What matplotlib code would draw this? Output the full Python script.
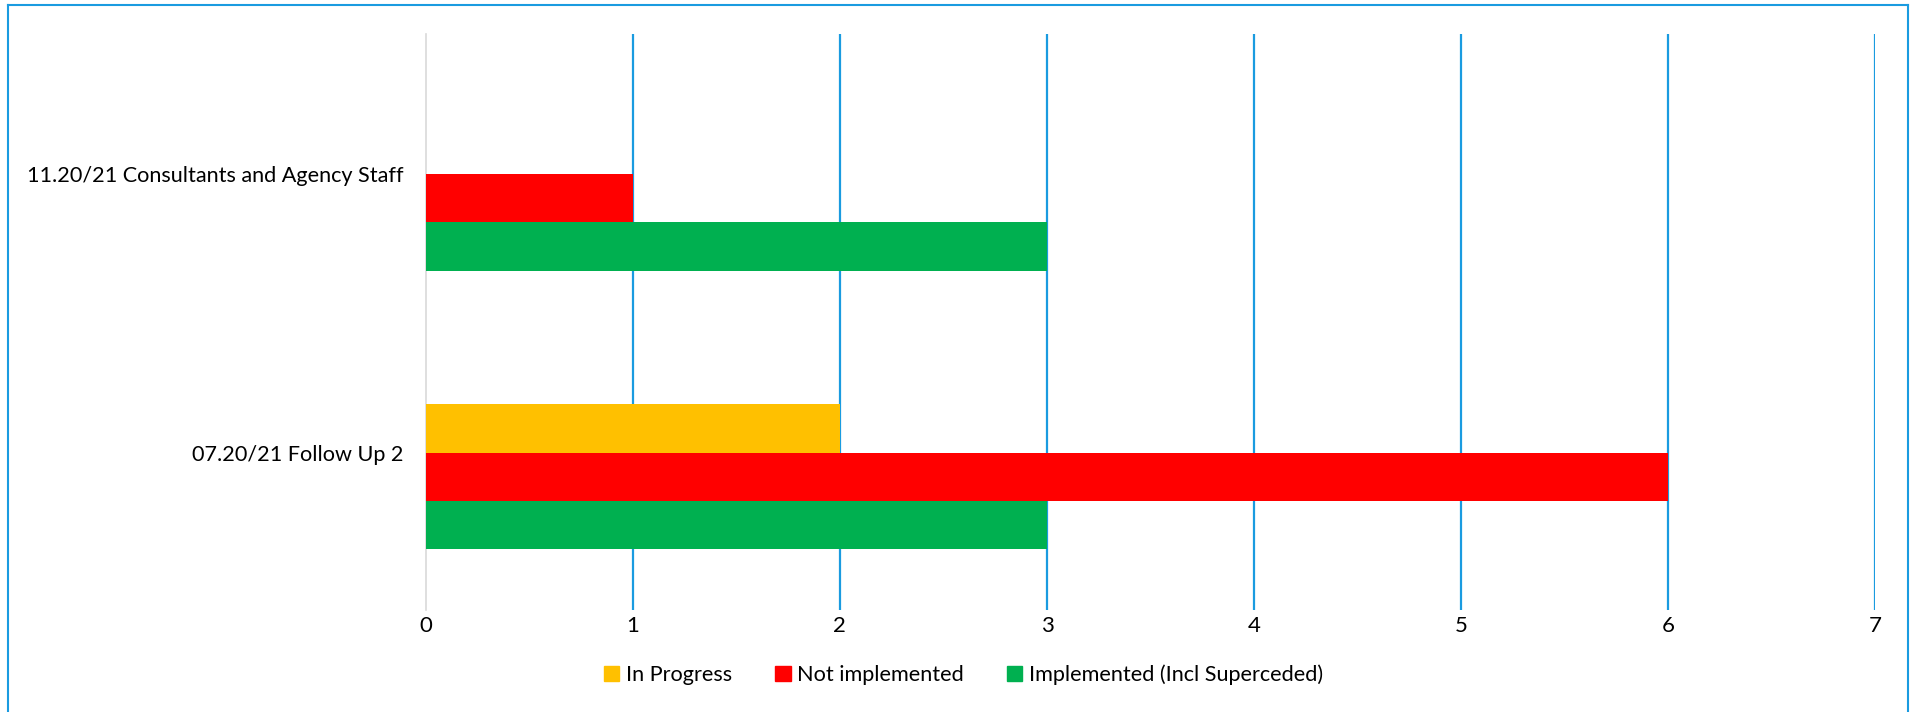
import matplotlib
matplotlib.use('Agg')
import matplotlib.pyplot as plt
from matplotlib.lines import Line2D
import numpy as np

# Daten
categories = ['07.20/21 Follow Up 2', '11.20/21 Consultants and Agency Staff']
series_names = ['In Progress', 'Not implemented', 'Implemented (Incl Superceded)']
in_progress = [2, 0]
not_implemented = [6, 1]
implemented = [3, 3]
colors = ['#FFC000', '#FF0000', '#00B050']
x_ticks = [0, 1, 2, 3, 4, 5, 6, 7]

plt.rcParams['font.family'] = ['Lato', 'DejaVu Sans']

fig = plt.figure(figsize=(19.12, 7.12), dpi=100)
ax = fig.add_axes([0.2226, 0.1433, 0.9809 - 0.2226, 0.952 - 0.1433])

y = np.arange(len(categories))
h = 0.173
values = [in_progress, not_implemented, implemented]
offsets = [h / 2, -h / 2, -3 * h / 2]
for vals, off, col, name in zip(values, offsets, colors, series_names):
    ax.barh(y + off, vals, height=h, color=col, label=name, zorder=3)

ax.set_xlim(0, 7)
ax.set_ylim(-0.566, 1.504)
ax.set_xticks(x_ticks)
ax.set_yticks(y)
ax.set_yticklabels(categories, fontsize=15.6)
ax.tick_params(axis='x', labelsize=16, length=0, pad=4)
ax.tick_params(axis='y', length=0, pad=16)

# Gitterlinien
for xv in x_ticks[1:]:
    ax.axvline(xv, color='#1a9be0', linewidth=1.6, zorder=2)
for s in ['top', 'right', 'bottom']:
    ax.spines[s].set_visible(False)
ax.spines['left'].set_color('#d9d9d9')
ax.spines['left'].set_linewidth(1.2)

handles = [plt.Rectangle((0, 0), 1, 1, color=c) for c in colors]
fig.legend(handles, series_names, loc='center', bbox_to_anchor=(0.504, 0.052),
           ncol=3, frameon=False, fontsize=15.6, handlelength=0.7, handleheight=0.7,
           handletextpad=0.3, columnspacing=2.0)

# Rahmen
bc = '#1a9be0'
fig.add_artist(Line2D([8 / 1912, 8 / 1912], [0, 1 - 5 / 712], color=bc, lw=1.5))
fig.add_artist(Line2D([8 / 1912, 1908 / 1912], [1 - 5 / 712, 1 - 5 / 712], color=bc, lw=1.5))
fig.add_artist(Line2D([1908 / 1912, 1908 / 1912], [0, 1 - 5 / 712], color=bc, lw=1.5))

fig.savefig('out.png', dpi=100)
